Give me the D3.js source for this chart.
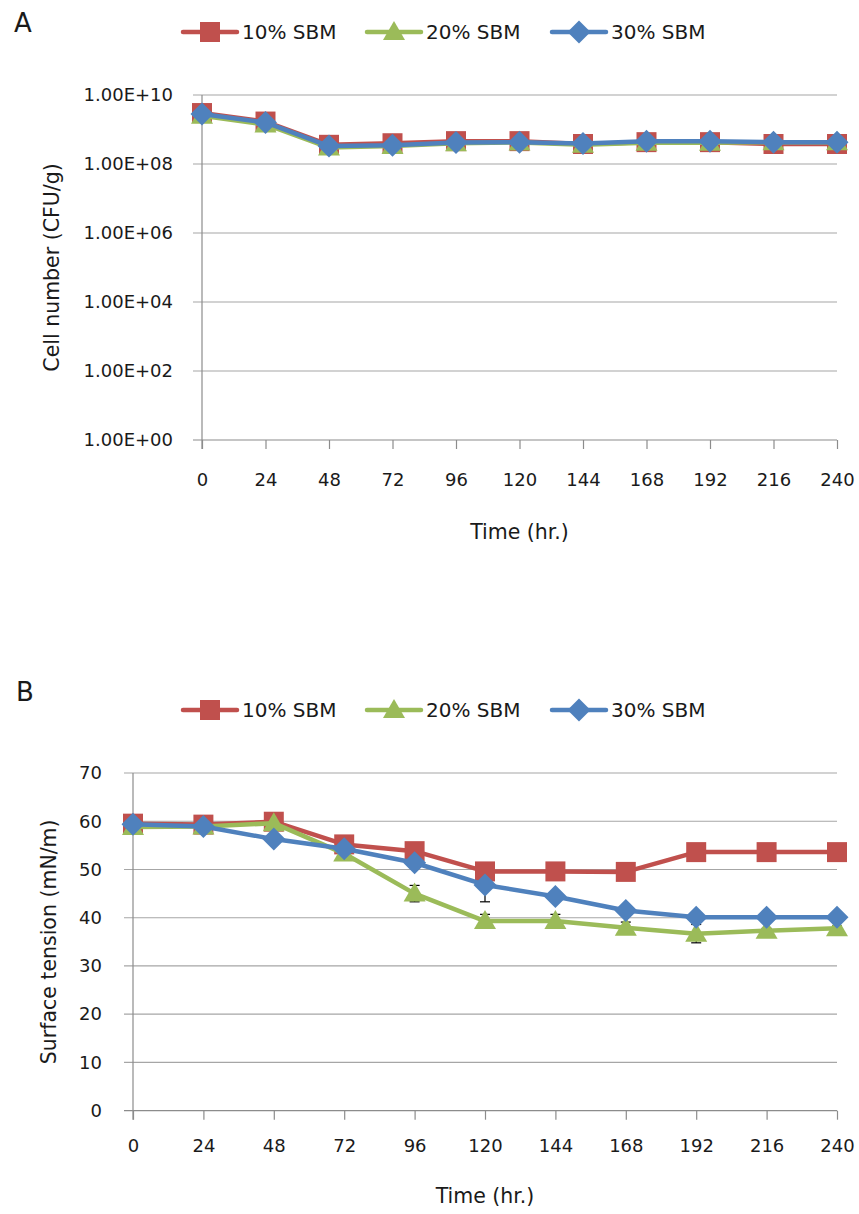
<!DOCTYPE html>
<html>
<head>
<meta charset="utf-8">
<script src="https://cdn.jsdelivr.net/npm/d3@7/dist/d3.min.js"></script>
<style>
  html, body { margin: 0; padding: 0; background: #ffffff; }
  svg { display: block; font-family: "DejaVu Sans", Verdana, sans-serif; }
</style>
</head>
<body>
<svg id="fig" width="859" height="1214"></svg>
<script>
// ---- Data ----
const hours = [0, 24, 48, 72, 96, 120, 144, 168, 192, 216, 240];
const seriesNames = ["10% SBM", "20% SBM", "30% SBM"];
const seriesColors = ["#C0504D", "#9BBB59", "#4F81BD"];
const seriesShapes = ["square", "triangle", "diamond"];

// Panel A: viable cell count (CFU/g)
const cells10 = [3.0e9, 1.7e9, 3.6e8, 4.0e8, 4.6e8, 4.6e8, 3.8e8, 4.3e8, 4.3e8, 3.8e8, 3.8e8];
const cells20 = [2.5e9, 1.4e9, 3.0e8, 3.3e8, 4.0e8, 4.2e8, 3.6e8, 4.1e8, 4.1e8, 4.3e8, 4.3e8];
const cells30 = [2.8e9, 1.6e9, 3.3e8, 3.5e8, 4.2e8, 4.3e8, 3.9e8, 4.6e8, 4.6e8, 4.3e8, 4.3e8];
const cellTicks = [1e0, 1e2, 1e4, 1e6, 1e8, 1e10];

// Panel B: surface tension (mN/m) and standard deviations
const st10 = [59.5, 59.3, 59.9, 55.2, 53.8, 49.6, 49.6, 49.5, 53.6, 53.6, 53.6];
const st20 = [58.8, 58.9, 59.6, 53.3, 45.0, 39.3, 39.3, 37.9, 36.7, 37.3, 37.8];
const st30 = [59.4, 58.9, 56.3, 54.3, 51.4, 46.8, 44.4, 41.5, 40.1, 40.1, 40.1];
const sd10 = [0.3, 0.3, 0.3, 0.3, 0.3, 0.3, 0.3, 0.3, 0.3, 0.3, 0.3];
const sd20 = [0.3, 0.3, 0.3, 0.3, 1.7, 1.4, 1.4, 1.2, 1.9, 0.5, 0.5];
const sd30 = [0.3, 0.3, 0.3, 0.3, 0.5, 3.5, 1.0, 0.9, 0.5, 0.3, 0.3];
const stTicks = [0, 10, 20, 30, 40, 50, 60, 70];

// ---- Shared styles ----
const gridColor = "#a6a6a6";
const axisColor = "#8c8c8c";
const tickFont = 18;
const titleFont = 20.5;
const legendFont = 20;
const tickLen = 9;

const svg = d3.select("#fig");

function markerPath(shape) {
  if (shape === "square") return d3.symbol(d3.symbolSquare, 400)();
  if (shape === "triangle") return "M0,-11L11,8L-11,8Z";
  return "M0,-11.5L11.5,0L0,11.5L-11.5,0Z";
}

function drawLegend(y) {
  const g = svg.append("g").attr("class", "legend");
  const starts = [183, 367, 552];
  seriesNames.forEach((name, i) => {
    const x0 = starts[i];
    g.append("line")
      .attr("x1", x0).attr("x2", x0 + 54).attr("y1", y).attr("y2", y)
      .attr("stroke", seriesColors[i]).attr("stroke-width", 4.5)
      .attr("stroke-linecap", "round");
    g.append("path")
      .attr("d", markerPath(seriesShapes[i]))
      .attr("transform", `translate(${x0 + 27},${y})`)
      .attr("fill", seriesColors[i]);
    g.append("text")
      .attr("x", x0 + 59).attr("y", y)
      .attr("dy", "0.36em")
      .attr("font-size", legendFont)
      .attr("fill", "#1a1a1a")
      .text(name);
  });
}

function drawPanel(opts) {
  const { x, y, tickValues, tickFormat, series, errors, letter, letterPos,
          legendY, yTitle, yTitleX, xLabelOffset, xTitleY, yLabelGap } = opts;
  const g = svg.append("g");
  const [left, right] = x.range();
  const [bottom, top] = y.range();

  // horizontal gridlines (extend left as tick marks)
  g.selectAll("line.grid").data(tickValues).join("line")
    .attr("class", "grid")
    .attr("x1", left - tickLen).attr("x2", right)
    .attr("y1", d => y(d)).attr("y2", d => y(d))
    .attr("stroke", d => d === tickValues[0] ? axisColor : gridColor)
    .attr("stroke-width", 1.2);

  // y axis line
  g.append("line")
    .attr("x1", left).attr("x2", left)
    .attr("y1", top).attr("y2", bottom + tickLen)
    .attr("stroke", axisColor).attr("stroke-width", 1.2);

  // x axis with outward ticks
  const xAxis = d3.axisBottom(x).tickValues(hours).tickSize(tickLen).tickPadding(xLabelOffset);
  const xg = g.append("g").attr("transform", `translate(0,${bottom})`).call(xAxis);
  xg.select(".domain").remove();
  xg.selectAll(".tick line").attr("stroke", axisColor).attr("stroke-width", 1.2);
  xg.selectAll(".tick text")
    .attr("font-size", tickFont).attr("font-family", "DejaVu Sans, sans-serif")
    .attr("fill", "#1a1a1a");

  // y tick labels
  const yAxis = d3.axisLeft(y).tickValues(tickValues).tickFormat(tickFormat)
    .tickSize(0).tickPadding(yLabelGap);
  const yg = g.append("g").attr("transform", `translate(${left},0)`).call(yAxis);
  yg.select(".domain").remove();
  yg.selectAll(".tick text")
    .attr("font-size", tickFont).attr("font-family", "DejaVu Sans, sans-serif")
    .attr("fill", "#1a1a1a");

  // axis titles
  g.append("text")
    .attr("x", (left + right) / 2).attr("y", xTitleY)
    .attr("text-anchor", "middle").attr("dy", "0.36em")
    .attr("font-size", titleFont).attr("fill", "#1a1a1a")
    .text("Time (hr.)");
  g.append("text")
    .attr("transform", `translate(${yTitleX},${(top + bottom) / 2}) rotate(-90)`)
    .attr("text-anchor", "middle").attr("dy", "0.36em")
    .attr("font-size", titleFont).attr("fill", "#1a1a1a")
    .text(yTitle);

  // error bars (beneath the series)
  if (errors) {
    const eg = g.append("g");
    series.forEach((vals, si) => {
      vals.forEach((v, i) => {
        const sd = errors[si][i];
        const cx = x(hours[i]);
        const y1 = y(v - sd), y2 = y(v + sd);
        eg.append("line").attr("x1", cx).attr("x2", cx).attr("y1", y1).attr("y2", y2)
          .attr("stroke", "#000").attr("stroke-width", 1.2);
        [y1, y2].forEach(yy => eg.append("line")
          .attr("x1", cx - 5).attr("x2", cx + 5).attr("y1", yy).attr("y2", yy)
          .attr("stroke", "#000").attr("stroke-width", 1.2));
      });
    });
  }

  // series: line then markers, drawn in order
  const line = d3.line().x((d, i) => x(hours[i])).y(d => y(d));
  series.forEach((vals, si) => {
    g.append("path")
      .attr("d", line(vals))
      .attr("fill", "none")
      .attr("stroke", seriesColors[si])
      .attr("stroke-width", 4.5)
      .attr("stroke-linejoin", "round");
    g.selectAll(null).data(vals).join("path")
      .attr("d", markerPath(seriesShapes[si]))
      .attr("transform", (d, i) => `translate(${x(hours[i])},${y(d)})`)
      .attr("fill", seriesColors[si]);
  });

  // panel letter and legend
  svg.append("text")
    .attr("x", letterPos[0]).attr("y", letterPos[1])
    .attr("font-size", 26).attr("fill", "#1a1a1a")
    .text(letter);
  drawLegend(legendY);
}

// Panel A: log scale cell counts
const xA = d3.scaleLinear().domain([0, 240]).range([202, 837]);
const yA = d3.scaleLog().domain([1, 1e10]).range([440, 95]);
drawPanel({
  x: xA, y: yA,
  tickValues: cellTicks,
  tickFormat: d => "1.00E+" + String(Math.round(Math.log10(d))).padStart(2, "0"),
  series: [cells10, cells20, cells30],
  errors: null,
  letter: "A", letterPos: [14, 32],
  legendY: 32,
  yTitle: "Cell number (CFU/g)", yTitleX: 52,
  xLabelOffset: 24, xTitleY: 532, yLabelGap: 29
});

// Panel B: surface tension
const xB = d3.scaleLinear().domain([0, 240]).range([133, 837]);
const yB = d3.scaleLinear().domain([0, 70]).range([1110.7, 773]);
drawPanel({
  x: xB, y: yB,
  tickValues: stTicks,
  tickFormat: d3.format("d"),
  series: [st10, st20, st30],
  errors: [sd10, sd20, sd30],
  letter: "B", letterPos: [16, 701],
  legendY: 710,
  yTitle: "Surface tension (mN/m)", yTitleX: 49,
  xLabelOffset: 20, xTitleY: 1196, yLabelGap: 31
});
</script>
</body>
</html>
